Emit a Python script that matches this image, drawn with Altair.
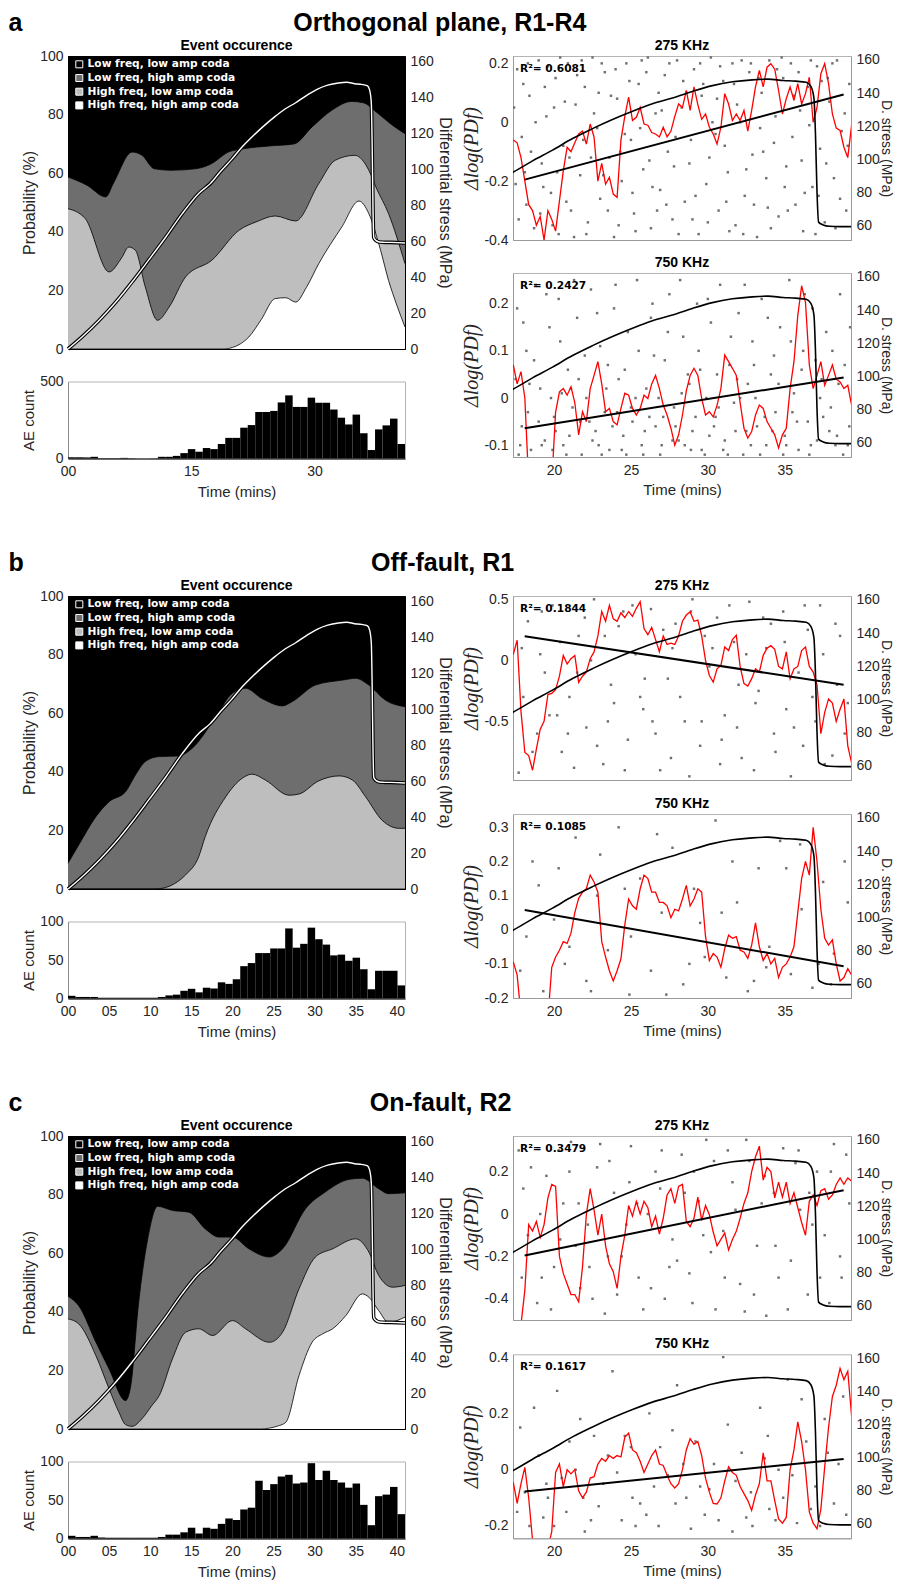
import altair as alt
import pandas as pd

FONT = "Liberation Sans"
SMALL_FONT = "DejaVu Sans"
NB = "\u00a0"

# ---------------- data ----------------
CATS = ["Low freq, low amp coda", "Low freq, high amp coda",
        "High freq, low amp coda", "High freq, high amp coda"]
CAT_COLORS = ["#000000", "#6e6e6e", "#bebebe", "#ffffff"]

# differential stress (MPa) vs time (mins)
stress_t = [0, 1.7, 3.8, 5.8, 7.8, 9.8, 11.9, 13.9, 15.9, 17.3, 18.6, 19.9, 21.2, 22.5, 23.8,
            25.1, 26.4, 27.7, 29.0, 30.3, 31.6, 32.9, 33.9, 34.9, 35.7, 36.4, 36.7, 36.9, 37.0,
            37.1, 37.2, 37.5, 37.9, 38.6, 39.3, 41.0]
stress_v = [0, 6.7, 16, 26, 37.3, 49.4, 62.3, 75.3, 86.5, 92, 99, 105.5, 112.5, 118.5, 124,
            129, 133.5, 137, 141, 144.5, 146.8, 148, 148.4, 147.6, 147.2, 146.5, 144, 137, 115,
            80, 62, 60.3, 59.5, 59.3, 59.3, 59]

# event occurrence band tops (probability %), section a
a_lfha_t = [0, 2.3, 4.6, 5.5, 7.8, 9.0, 10.5, 12.5, 15.5, 17.5, 19.5, 21.5, 24.5, 27.5, 29.7, 32.1, 34.5, 36, 37.5, 39.5, 41]
a_lfha_v = [58.7, 55.9, 51.9, 56.4, 67.2, 66.1, 61.5, 61, 61.5, 63.3, 67.2, 68.4, 69.3, 70, 75.8, 81.5, 84.5, 84, 80.9, 76.3, 73.5]
a_hfla_t = [0, 2.1, 5, 6.5, 7.4, 8.2, 9.4, 10.9, 12.3, 14.3, 17.5, 20.8, 23, 25.2, 27.7, 30.5, 32.5, 34.9, 36.6, 37.5, 39, 41]
a_hfla_v = [47.9, 44.5, 26.3, 31, 34.8, 33.7, 21.2, 9.8, 14.3, 24.6, 30.3, 40.5, 43.5, 45.4, 43.7, 56.4, 64.4, 66.1, 61, 55, 46.2, 29.1]
a_hfha_t = [0, 19, 20, 21, 22, 23.5, 25.2, 26.5, 27.7, 29, 30.5, 33.3, 35.4, 36.6, 38, 39, 40, 41]
a_hfha_v = [0, 0, 0.5, 1.8, 4.1, 10, 17.2, 17.5, 16, 21, 29.1, 41.6, 50.5, 46.2, 34, 23.4, 15, 7.5]

# section b
b_lfha_t = [0, 1.3, 3.4, 5, 7, 8.2, 9.4, 11.1, 13.5, 15.1, 17.6, 20, 21.6, 23.6, 26.1, 27.3, 30.1, 33.4, 35, 36.6, 38.6, 41]
b_lfha_v = [8.8, 15, 24.7, 29.8, 33.2, 38.9, 43.5, 45.2, 45.4, 48, 57.1, 66.8, 68.5, 65, 62.5, 64, 69.6, 71.3, 71.9, 69.6, 64.5, 62.2]
b_hfla_t = [0, 10.6, 12, 13, 14.3, 15.9, 16.7, 19.2, 21.2, 22.4, 24, 26.9, 28.1, 30.5, 33, 34.6, 36.2, 38.2, 40.3, 41]
b_hfla_v = [0, 0, 0.6, 1.9, 4.8, 11, 17.9, 31.5, 37.8, 39.2, 37.2, 32, 32.4, 36.9, 38.6, 37.2, 31.5, 23.5, 20.7, 20.7]
b_hfha_t = [0, 41]
b_hfha_v = [0, 0]

# section c
c_lfha_t = [0, 1.3, 3.4, 5, 7, 7.6, 8.6, 9.7, 10.9, 12.7, 14.7, 16.7, 18.4, 20, 22, 24.5, 26.1, 28.9, 31.3, 34.2, 35.8, 37.8, 39, 41]
c_lfha_v = [45.3, 42.1, 29.6, 20.5, 9.7, 14.2, 43.3, 64.9, 76, 74.6, 74, 68.3, 65.5, 65.5, 61.5, 58.7, 61.5, 75.2, 80.9, 85.2, 85.6, 82, 80.3, 80.6]
c_hfla_t = [0, 1.3, 3.4, 5, 6.2, 7, 7.8, 9.0, 10.2, 11.1, 12.7, 14.3, 15.9, 17.6, 20, 21.6, 24.5, 26.1, 28.1, 30.1, 32.2, 35, 36.6, 37.8, 39.5, 41]
c_hfla_v = [37.6, 35.9, 25, 13.7, 5.7, 1.5, 0.9, 3.5, 8, 11.4, 23.9, 33, 34.2, 31.9, 37, 34.2, 29.6, 33, 47.8, 58.7, 61.5, 64.9, 60.4, 52.4, 48.4, 49]
c_hfha_t = [0, 23.5, 24.5, 25.5, 26.5, 28.1, 29.7, 31, 32.2, 33.8, 35.8, 36.6, 37.8, 39, 41]
c_hfha_v = [0, 0, 0.3, 1, 2.3, 18.2, 29.6, 32.5, 34.2, 38.7, 46.1, 45, 40.4, 36.4, 38.2]

# AE counts, 45 equal bins over 0-41 min
ae_a = [8, 8, 7, 11, 2, 2, 2, 4, 2, 0, 0, 1, 11, 11, 17, 35, 61, 44, 68, 61, 94, 134, 134, 200, 217,
        302, 302, 309, 364, 410, 335, 335, 395, 362, 362, 318, 265, 221, 285, 164, 55, 189, 215, 259, 94]
ae_b = [3.5, 2, 2, 2, 1, 1, 1, 1, 1, 1, 1, 1, 2, 4, 5, 10, 12.6, 8, 14, 13, 21, 19, 25, 42, 46,
        59, 59, 65, 65, 91, 66, 71, 92, 77, 70, 56, 57, 49, 53, 38, 12, 36, 36, 36, 17]
ae_c = [3.5, 2, 2, 3.5, 1.3, 1, 1, 1, 1, 1, 1, 1, 2, 5, 5, 8, 14, 6.5, 14, 12.6, 19, 26, 24, 37.7, 40,
        75, 63, 70.6, 80.5, 82.7, 71.4, 72.7, 97.8, 76, 88, 76, 72.7, 66, 71.4, 43.7, 17.3, 55, 57, 67, 31.6]

# running delta log(PD_f) (red lines), common time grid
red_t = [17.35, 17.6, 17.85, 18.1, 18.35, 18.6, 18.85, 19.1, 19.35, 19.6, 19.85, 20.1, 20.35, 20.6,
         20.85, 21.1, 21.35, 21.6, 21.85, 22.1, 22.35, 22.6, 22.85, 23.1, 23.35, 23.6, 23.85, 24.1,
         24.35, 24.6, 24.85, 25.1, 25.35, 25.6, 25.85, 26.1, 26.35, 26.6, 26.85, 27.1, 27.35, 27.6,
         27.85, 28.1, 28.35, 28.6, 28.85, 29.1, 29.35, 29.6, 29.85, 30.1, 30.35, 30.6, 30.85, 31.1,
         31.35, 31.6, 31.85, 32.1, 32.35, 32.6, 32.85, 33.1, 33.35, 33.6, 33.85, 34.1, 34.35, 34.6,
         34.85, 35.1, 35.35, 35.6, 35.85, 36.1, 36.35, 36.6, 36.85, 37.1, 37.35, 37.6, 37.85, 38.1,
         38.35, 38.6, 38.85, 39.1, 39.35]
red_a275 = [-0.06, -0.07, -0.12, -0.2, -0.28, -0.3, -0.35, -0.32, -0.4, -0.3, -0.33, -0.37, -0.267, -0.165,
            -0.085, -0.1, -0.07, -0.04, -0.03, -0.074, -0.006, -0.05, -0.2, -0.14, -0.21, -0.187, -0.244, -0.255,
            -0.06, 0.02, 0.085, 0.006, 0.017, 0.05, -0.006, -0.01, -0.035, -0.04, -0.05, -0.017, -0.05, -0.03,
            0.02, 0.062, 0.05, 0.108, 0.04, 0.12, 0.06, 0.01, 0.028, -0.017, -0.04, -0.074, -0.017, 0.097,
            0.062, 0.006, 0.028, 0.006, 0.04, -0.03, 0.04, 0.12, 0.176, 0.12, 0.187, 0.199, 0.18, 0.108,
            0.028, 0.08, 0.12, 0.074, 0.131, 0.062, 0.097, 0.153, 0.0, 0.05, 0.165, 0.199, 0.131, 0.028,
            -0.02, -0.028, -0.085, -0.12, -0.01]
red_a750 = [0.07, 0.03, 0.056, 0.0, -0.18, -0.2, -0.21, -0.22, -0.22, -0.2, -0.18, -0.03, 0.013, 0.02,
            0.006, 0.024, -0.01, -0.078, -0.029, -0.05, 0.02, 0.048, 0.077, 0.03, -0.029, -0.022, -0.05, -0.057,
            -0.022, 0.01, 0.006, -0.022, -0.036, -0.022, 0.006, -0.001, 0.03, 0.048, 0.02, -0.015, -0.036, -0.064,
            -0.1, -0.078, -0.036, 0.015, 0.048, 0.063, 0.048, -0.001, -0.036, -0.029, -0.04, -0.015, 0.02, 0.091,
            0.077, 0.063, 0.048, -0.01, -0.064, -0.085, -0.071, -0.036, -0.015, -0.022, -0.05, -0.064, -0.078, -0.106,
            -0.078, -0.064, 0.02, 0.077, 0.175, 0.238, 0.203, 0.07, 0.02, 0.048, 0.077, 0.027, 0.048, 0.07,
            0.04, 0.034, 0.02, 0.027, -0.015]
red_b275 = [0.05, 0.165, -0.42, -0.755, -0.78, -0.9, -0.728, -0.563, -0.5, -0.28, -0.27, -0.24, -0.13, 0.04,
            -0.03, 0.014, 0.04, -0.18, -0.13, -0.096, 0.014, 0.069, 0.2, 0.4, 0.32, 0.45, 0.34, 0.32,
            0.39, 0.35, 0.4, 0.36, 0.426, 0.48, 0.26, 0.21, 0.27, 0.17, 0.07, 0.2, 0.13, 0.14,
            0.13, 0.2, 0.32, 0.371, 0.398, 0.32, 0.33, 0.2, 0.0, -0.124, -0.178, -0.069, -0.041, 0.11,
            0.08, 0.17, 0.206, -0.05, -0.19, -0.21, -0.15, -0.069, -0.096, 0.041, 0.1, 0.12, 0.09, -0.05,
            -0.07, 0.069, -0.151, -0.07, -0.05, 0.08, 0.11, -0.05, -0.096, -0.2, -0.6, -0.426, -0.316, -0.35,
            -0.5, -0.4, -0.316, -0.7, -0.84]
red_b750 = [-0.094, -0.133, -0.25, -0.26, -0.28, -0.3, -0.29, -0.3, -0.28, -0.26, -0.11, -0.08, -0.06, -0.035,
            -0.04, -0.01, 0.05, 0.092, 0.11, 0.12, 0.16, 0.14, 0.11, -0.035, -0.08, -0.12, -0.15, -0.12,
            -0.085, 0.014, 0.09, 0.07, 0.06, 0.12, 0.16, 0.15, 0.11, 0.11, 0.08, 0.08, 0.07, 0.035,
            0.06, 0.055, 0.09, 0.13, 0.07, 0.09, 0.12, 0.11, -0.02, -0.09, -0.07, -0.08, -0.11, -0.055,
            -0.016, -0.025, -0.02, -0.06, -0.065, -0.084, -0.045, 0.02, -0.05, -0.09, -0.07, -0.1, -0.084, -0.14,
            -0.11, -0.1, -0.08, -0.05, 0.05, 0.15, 0.2, 0.16, 0.3, 0.2, 0.06, -0.025, -0.045, -0.03,
            -0.1, -0.15, -0.14, -0.114, -0.133]
red_c275 = [-0.6, -0.6, -0.52, -0.36, -0.05, -0.08, -0.035, -0.11, -0.05, 0.076, 0.139, 0.13, -0.2, -0.28,
            -0.33, -0.38, -0.38, -0.414, -0.25, -0.003, 0.12, 0.02, -0.1, 0.0, -0.15, -0.235, -0.272, -0.351,
            -0.2, -0.1, 0.04, -0.01, 0.06, 0.0, 0.06, 0.03, -0.06, -0.01, -0.095, -0.02, 0.09, 0.12,
            0.05, 0.13, 0.14, -0.035, -0.06, -0.02, 0.08, -0.03, 0.04, -0.003, -0.085, -0.15, -0.12, -0.09,
            -0.17, -0.12, -0.082, -0.02, 0.05, 0.1, 0.2, 0.27, 0.32, 0.16, 0.22, 0.2, 0.076, 0.15,
            0.08, 0.15, 0.05, 0.1, 0.03, -0.04, -0.1, 0.06, 0.09, 0.04, 0.11, 0.12, 0.07, 0.09,
            0.139, 0.17, 0.14, 0.17, 0.155]
red_c750 = [-0.045, -0.12, -0.05, 0.008, -0.1, -0.25, -0.3, -0.32, -0.3, -0.28, -0.22, -0.01, 0.02, -0.06,
            0.0, -0.015, 0.0, -0.075, -0.1, -0.08, -0.03, -0.025, 0.02, 0.04, 0.03, 0.05, 0.04, 0.05,
            0.045, 0.115, 0.13, 0.07, 0.06, 0.03, -0.01, 0.02, 0.05, 0.07, 0.02, 0.015, -0.02, -0.05,
            -0.065, -0.05, 0.0, 0.07, 0.11, 0.09, 0.1, 0.05, -0.03, -0.08, -0.12, -0.122, -0.1, -0.04,
            0.01, -0.01, -0.02, -0.06, -0.085, -0.11, -0.145, -0.09, -0.05, 0.06, -0.04, -0.04, -0.11, -0.175,
            -0.19, -0.17, 0.0, 0.07, 0.17, 0.1, 0.0, -0.15, -0.19, -0.21, -0.14, 0.01, 0.15, 0.26,
            0.3, 0.36, 0.32, 0.35, 0.19]

# regression lines (end points)
reg_t = [18.09, 38.83]
reg_a275 = [-0.195, 0.094]
reg_a750 = [-0.064, 0.0437]
reg_b275 = [0.198, -0.2]
reg_b750 = [0.058, -0.107]
reg_c275 = [-0.196, 0.112]
reg_c750 = [-0.078, 0.038]

r2_values = ["0.6081", "0.2427", "0.1844", "0.1085", "0.3479", "0.1617"]

# individual events (gray dots): (time, delta log PD_f)
dots_a275 = [(17.6,0.18),(17.9,-0.05),(18.2,-0.28),(18.4,0.09),(18.7,-0.36),(19.0,0.21),(19.2,-0.14),(19.5,0.02),
    (19.8,-0.24),(20.1,0.15),(20.3,-0.38),(20.6,-0.08),(20.9,0.2),(21.1,-0.3),(21.4,0.06),(21.7,-0.18),(22.0,0.12),
    (22.2,-0.34),(22.5,0.22),(22.8,-0.02),(23.0,-0.26),(23.3,0.17),(23.6,-0.12),(23.9,-0.39),(24.1,0.08),(24.4,-0.2),
    (24.7,0.2),(25.0,-0.06),(25.2,-0.31),(25.5,0.13),(25.8,-0.16),(26.1,0.22),(26.3,-0.36),(26.6,0.03),(26.9,-0.23),
    (27.2,0.16),(27.4,-0.1),(27.7,-0.33),(28.0,0.21),(28.3,0.05),(28.5,-0.27),(28.8,-0.14),(29.1,0.18),(29.4,-0.38),
    (29.6,0.09),(29.9,-0.21),(30.2,0.22),(30.5,-0.04),(30.7,-0.3),(31.0,0.14),(31.3,-0.17),(31.6,0.2),(31.8,-0.35),
    (32.1,0.0),(32.4,-0.25),(32.7,0.17),(32.9,-0.11),(33.2,-0.39),(33.5,0.1),(33.8,-0.19),(34.0,0.21),(34.3,-0.07),
    (34.6,-0.32),(34.9,0.15),(35.1,-0.15),(35.4,0.2),(35.7,-0.28),(36.0,0.04),(36.2,-0.37),(36.5,0.12),(36.8,-0.22),
    (37.1,0.19),(37.3,-0.09),(37.6,-0.34),(37.9,0.07),(38.2,-0.19),(38.4,0.21),(38.7,-0.03),(39.0,-0.3),(39.2,0.13),
    (17.5,-0.21),(18.0,0.13),(18.5,-0.1),(19.1,-0.31),(19.6,0.19),(20.2,-0.17),(20.7,0.07),(21.3,-0.39),(21.8,0.21),
    (22.4,-0.12),(22.9,0.1),(23.5,-0.3),(24.0,0.18),(24.6,-0.04),(25.1,-0.24),(25.7,0.21),(26.2,-0.13),(26.8,0.1),
    (27.3,-0.28),(27.9,-0.05),(28.4,0.14),(29.0,-0.33),(29.5,0.2),(30.1,-0.12),(30.6,0.08),(31.2,-0.27),(31.7,0.13),
    (32.3,-0.38),(32.8,0.2),(33.4,-0.02),(33.9,-0.29),(34.5,0.18),(35.0,-0.22),(35.6,0.09),(36.1,-0.13),(36.7,0.21),
    (37.2,-0.25),(37.8,0.15),(38.3,-0.36),(38.9,0.03),
    (17.4,0.05),(17.7,-0.33),(18.1,-0.17),(18.3,0.2),(18.8,0.0),(19.3,-0.22),(19.4,0.12),(19.9,-0.35),(20.0,0.05),
    (20.4,0.22),(20.8,-0.27),(21.0,-0.12),(21.5,0.16),(21.9,-0.06),(22.1,-0.38),(22.6,0.03),(23.1,0.2),(23.2,-0.18),
    (23.7,0.09),(24.2,-0.35),(24.3,-0.1),(24.9,0.14),(25.3,-0.37),(25.6,-0.02),(26.0,0.17),(26.4,-0.22),(26.7,-0.3),
    (27.0,0.04),(27.5,0.2),(27.8,-0.15),(28.1,-0.38),(28.6,0.1),(28.9,-0.06),(29.2,-0.25),(29.7,0.13),(30.0,-0.34),
    (30.3,0.0),(30.8,0.19),(31.1,-0.08),(31.4,-0.37),(31.9,0.06),(32.2,0.21),(32.5,-0.16),(33.0,-0.28),(33.3,0.15),
    (33.6,-0.1),(34.1,-0.36),(34.4,0.02),(34.8,0.22),(35.2,-0.3),(35.5,-0.05),(35.9,0.17),(36.3,-0.24),(36.6,-0.01),
    (37.0,-0.38),(37.4,0.14),(37.7,-0.14),(38.1,0.2),(38.6,-0.26),(39.1,-0.08)]
dots_a750 = [(17.6,0.19),(17.9,-0.06),(18.2,0.1),(18.5,-0.11),(18.8,0.24),(19.1,0.02),(19.4,-0.09),(19.7,0.15),
    (20.0,-0.04),(20.3,0.21),(20.6,-0.1),(20.9,0.06),(21.2,-0.02),(21.5,0.17),(21.8,-0.12),(22.1,0.0),(22.4,0.23),
    (22.7,-0.07),(23.0,0.11),(23.3,-0.03),(23.6,-0.11),(23.9,0.19),(24.2,0.04),(24.5,-0.08),(24.8,0.14),(25.1,-0.05),
    (25.4,0.25),(25.7,-0.1),(26.0,0.02),(26.3,0.17),(26.6,-0.06),(26.9,-0.12),(27.2,0.08),(27.5,0.22),(27.8,-0.02),
    (28.1,-0.09),(28.4,0.13),(28.7,0.05),(29.0,-0.07),(29.3,0.2),(29.6,-0.11),(29.9,0.0),(30.2,0.16),(30.5,-0.04),
    (30.8,0.24),(31.1,-0.09),(31.4,0.07),(31.7,-0.01),(32.0,0.18),(32.3,-0.12),(32.6,0.03),(32.9,0.12),(33.2,-0.06),
    (33.5,0.21),(33.8,-0.1),(34.1,0.05),(34.4,-0.03),(34.7,0.15),(35.0,-0.08),(35.3,0.25),(35.6,0.01),(35.9,-0.11),
    (36.2,0.1),(36.5,-0.05),(36.8,0.19),(37.1,-0.09),(37.4,0.04),(37.7,0.14),(38.0,-0.02),(38.3,-0.1),(38.6,0.22),
    (38.9,0.07),(39.2,-0.06),(17.8,-0.1),(18.4,0.03),(19.0,-0.05),(19.9,-0.11),(20.5,0.01),(21.0,-0.08),(21.6,0.04),
    (22.3,-0.05),(22.9,-0.1),(23.5,0.07),(24.1,-0.03),(24.7,-0.12),(25.3,0.0),(25.9,-0.07),(26.5,0.09),(27.1,-0.04),
    (27.7,-0.09),(28.3,0.01),(28.9,-0.11),(29.5,0.06),(30.1,-0.08),(30.7,-0.02),(31.3,-0.12),(31.9,0.04),(32.5,-0.07),
    (33.1,0.0),(33.7,-0.04),(34.3,0.09),(34.9,-0.12),(35.5,-0.03),(36.1,0.06),(36.7,-0.1),(37.3,0.0),(37.9,-0.07),
    (38.5,0.03),(39.1,-0.1),
    (17.5,0.04),(17.7,-0.12),(18.0,0.16),(18.3,-0.03),(18.7,0.08),(19.2,-0.1),(19.5,0.22),(19.8,0.0),(20.1,-0.07),
    (20.4,0.12),(20.8,-0.12),(21.1,0.02),(21.3,0.25),(21.7,-0.05),(22.0,0.09),(22.5,-0.09),(22.8,0.18),(23.1,-0.12),
    (23.4,0.02),(23.8,-0.06),(24.0,0.24),(24.4,-0.11),(24.6,0.06),(25.0,-0.02),(25.5,0.1),(25.8,-0.12),(26.2,-0.04),
    (26.4,0.2),(26.8,0.0),(27.0,-0.1),(27.4,0.14),(27.9,-0.06),(28.2,0.25),(28.5,-0.1),(28.8,0.03),(29.2,-0.04),
    (29.4,0.1),(29.8,-0.12),(30.0,0.21),(30.4,-0.06),(30.6,0.05),(31.0,-0.11),(31.5,0.13),(31.8,-0.07),(32.1,0.0),
    (32.4,0.24),(32.8,-0.1),(33.0,0.07),(33.4,-0.12),(33.9,0.17),(34.2,-0.07),(34.6,0.03),(35.1,-0.1),(35.4,0.12),
    (35.8,-0.05),(36.3,0.22),(36.6,-0.12),(37.0,0.08),(37.5,-0.04),(38.1,0.1),(38.4,-0.08),(38.8,-0.12),(39.25,0.15)]
dots_b275 = [(17.7,-0.92),(18.3,0.32),(18.9,-0.6),(19.4,-0.1),(19.9,0.45),(20.5,-0.75),(21.0,-0.3),(21.6,0.2),
    (22.1,-0.55),(22.6,0.5),(23.2,-0.85),(23.7,-0.2),(24.2,0.28),(24.8,-0.65),(25.3,0.05),(25.8,-0.4),(26.3,0.42),
    (26.9,-0.9),(27.4,-0.15),(27.9,0.3),(28.5,-0.5),(29.0,0.5),(29.5,-0.7),(30.1,-0.05),(30.6,0.35),(31.1,-0.45),
    (31.7,0.15),(32.2,-0.8),(32.7,0.48),(33.3,-0.25),(33.8,0.1),(34.3,-0.6),(34.9,0.4),(35.4,-0.95),(35.9,-0.1),
    (36.5,0.25),(37.0,-0.5),(37.5,0.05),(38.1,-0.78),(38.6,0.2),(39.1,-0.35),(18.0,-0.3),(19.1,0.05),(20.2,-0.45),
    (21.3,-0.88),(22.4,0.0),(23.5,-0.5),(24.5,0.4),(25.6,-0.3),(26.6,-0.6),(27.7,0.1),(28.8,-0.95),(29.8,0.2),
    (30.9,-0.65),(32.0,-0.2),(33.0,-0.9),(34.1,0.3),(35.1,-0.4),(36.2,-0.7),(37.3,0.45),(38.4,-0.2),
    (17.9,0.1),(18.6,-0.75),(19.2,0.4),(19.7,-0.45),(20.4,0.15),(20.9,-0.6),(21.5,-0.1),(22.0,0.35),(22.8,-0.7),
    (23.3,0.2),(23.9,-0.35),(24.6,-0.9),(25.1,0.45),(25.9,-0.15),(26.4,-0.5),(27.1,0.25),(27.6,-0.8),(28.2,-0.3),
    (28.9,0.4),(29.6,-0.5),(30.3,0.1),(30.8,-0.85),(31.4,0.45),(31.9,-0.55),(32.5,0.05),(33.1,-0.35),(33.6,0.35),
    (34.4,-0.75),(35.0,0.15),(35.6,-0.55),(36.3,0.45),(36.8,-0.3),(37.6,-0.85),(38.3,0.3),(38.9,-0.6)]
dots_b750 = [(17.8,-0.12),(18.6,0.2),(19.3,-0.18),(20.0,0.03),(20.7,-0.1),(21.4,0.27),(22.1,-0.15),(22.8,0.1),
    (23.5,-0.06),(24.2,0.3),(24.9,-0.19),(25.6,0.15),(26.3,-0.12),(27.0,0.05),(27.7,0.24),(28.4,-0.16),(29.1,0.12),
    (29.8,-0.08),(30.5,0.32),(31.2,-0.14),(31.9,0.08),(32.6,-0.18),(33.3,0.18),(34.0,-0.05),(34.7,0.26),(35.4,-0.13),
    (36.1,0.06),(36.8,-0.17),(37.5,0.14),(38.2,-0.07),(38.9,0.2),(19.0,0.13),(21.0,-0.05),(23.0,0.22),(25.0,-0.02),
    (27.3,-0.19),(29.5,0.02),(31.6,0.2),(33.8,-0.11),(36.0,0.25),(38.0,-0.16),
    (18.2,-0.02),(20.3,0.18),(22.4,-0.18),(24.6,0.12),(26.7,0.28),(28.8,-0.1),(30.9,0.05),(33.0,-0.15),(35.1,0.18),
    (37.2,-0.1),(39.1,0.08)]
dots_c275 = [(17.7,0.3),(18.3,-0.1),(18.9,-0.42),(19.5,0.18),(20.0,-0.25),(20.6,0.05),(21.1,0.34),(21.7,-0.35),
    (22.2,-0.05),(22.8,0.22),(23.3,-0.47),(23.9,0.1),(24.4,-0.2),(25.0,0.32),(25.5,-0.3),(26.1,0.0),(26.6,0.2),
    (27.2,-0.4),(27.7,-0.12),(28.3,0.28),(28.8,-0.28),(29.4,0.06),(29.9,0.35),(30.5,-0.45),(31.0,-0.08),(31.6,0.15),
    (32.1,-0.33),(32.7,0.25),(33.2,-0.15),(33.8,-0.48),(34.3,0.1),(34.9,0.31),(35.4,-0.22),(36.0,0.02),(36.5,-0.38),
    (37.1,0.2),(37.6,-0.1),(38.2,0.33),(38.7,-0.3),(39.2,0.05),(18.0,0.12),(19.2,-0.3),(20.3,0.3),(21.4,-0.15),
    (22.5,-0.4),(23.6,0.25),(24.7,-0.05),(25.8,-0.45),(26.9,0.12),(28.0,-0.22),(29.1,0.2),(30.2,-0.18),(31.3,0.3),
    (32.4,-0.46),(33.5,0.05),(34.6,-0.3),(35.7,0.24),(36.8,-0.05),(37.9,-0.42),(39.0,0.28),
    (17.9,-0.3),(18.5,0.22),(19.1,0.0),(19.8,-0.45),(20.4,-0.12),(21.0,0.2),(21.6,0.05),(22.3,-0.25),(23.0,0.33),
    (23.5,-0.2),(24.1,-0.38),(24.9,0.15),(25.4,0.05),(26.3,-0.35),(27.0,0.3),(27.5,-0.25),(28.5,0.1),(29.0,-0.42),
    (29.7,-0.1),(30.4,0.25),(31.1,-0.3),(31.8,0.02),(32.5,0.35),(33.0,-0.38),(33.7,0.18),(34.4,-0.15),(35.2,-0.45),
    (35.9,0.3),(36.6,0.1),(37.3,-0.3),(38.0,0.2),(38.6,-0.2)]
dots_c750 = [(17.8,0.15),(18.4,-0.2),(19.0,0.05),(19.6,-0.1),(20.2,0.28),(20.8,-0.15),(21.4,0.0),(22.0,-0.22),
    (22.6,0.12),(23.2,-0.05),(23.8,0.35),(24.4,-0.18),(25.0,0.08),(25.6,-0.12),(26.2,0.2),(26.8,-0.2),(27.4,-0.02),
    (28.0,0.3),(28.6,-0.1),(29.2,0.1),(29.8,-0.16),(30.4,0.02),(31.0,0.4),(31.6,-0.22),(32.2,0.06),(32.8,-0.08),
    (33.4,0.22),(34.0,-0.14),(34.6,0.0),(35.2,0.32),(35.8,-0.19),(36.4,0.1),(37.0,-0.06),(37.6,0.18),(38.2,-0.12),
    (38.8,0.26),(18.1,-0.08),(19.3,-0.17),(20.5,-0.03),(21.7,0.18),(22.9,-0.13),(24.1,-0.01),(25.3,-0.2),(26.5,-0.06),
    (27.7,0.14),(28.9,-0.21),(30.1,-0.07),(31.3,0.16),(32.5,-0.17),(33.7,0.04),(34.9,-0.1),(36.1,0.25),(37.3,-0.2),
    (38.5,0.02),
    (17.6,-0.15),(18.7,0.22),(19.5,-0.05),(20.0,-0.2),(21.0,0.1),(21.9,-0.1),(22.4,-0.18),(23.5,0.05),(24.6,0.12),
    (25.1,-0.1),(26.0,-0.16),(26.9,0.08),(27.9,-0.12),(28.4,0.02),(29.5,-0.06),(30.7,-0.18),(31.8,-0.04),(32.9,-0.2),
    (33.9,0.12),(34.4,-0.18),(35.5,-0.02),(36.7,-0.14),(37.8,0.06),(39.0,-0.16)]

# ---------------- helpers ----------------
stress_df = pd.DataFrame({"t": stress_t, "s": stress_v})
LABEL = dict(labelFontSize=14, ticks=False, grid=False)


def panel_title(text, width):
    return alt.Chart(pd.DataFrame({"label": [text]})).mark_text(
        align="center", baseline="middle", font=FONT, fontSize=14, fontWeight="bold", color="black"
    ).encode(x=alt.value(width / 2), y=alt.value(-10), text="label:N")


def main_panel(b3t, b3v, b2t, b2v, b1t, b1v):
    x = alt.X("t:Q", scale=alt.Scale(domain=[0, 41], nice=False, zero=False),
              axis=alt.Axis(labels=False, ticks=False, title=None, domainColor="black"))
    yax = alt.Axis(values=[0, 20, 40, 60, 80, 100], title="Probability (%)", titleFontSize=16,
                   titlePadding=3, minExtent=28, maxExtent=28, labelPadding=5,
                   domainColor="black", **LABEL)
    y = alt.Y("p:Q", stack=None, scale=alt.Scale(domain=[0, 100], nice=False), axis=yax)
    leg = alt.Legend(title=None, orient="none", legendX=6, legendY=3, symbolType="square",
                     symbolSize=49, symbolStrokeColor="white", symbolStrokeWidth=1,
                     labelColor="white", labelFont=SMALL_FONT, labelFontSize=10.6, labelFontWeight="bold",
                     rowPadding=1.7, labelOffset=3, padding=0)
    color = alt.Color("band:N", scale=alt.Scale(domain=CATS, range=CAT_COLORS), legend=leg)
    frames = [(CATS[0], [0, 41], [100, 100]), (CATS[1], b3t, b3v), (CATS[2], b2t, b2v), (CATS[3], b1t, b1v)]
    areas, lines = [], []
    for i, (name, tt, vv) in enumerate(frames):
        df = pd.DataFrame({"t": tt, "p": vv, "band": name})
        areas.append(alt.Chart(df).mark_area(interpolate="monotone", opacity=1).encode(x=x, y=y, color=color))
        if i > 0:
            lines.append(alt.Chart(df).mark_line(interpolate="monotone", color="black", strokeWidth=0.8)
                         .encode(x=x, y=y))
    sy = alt.Y("s:Q", scale=alt.Scale(domain=[0, 163], nice=False),
               axis=alt.Axis(orient="right", values=list(range(0, 161, 20)),
                             title="Differential stress (MPa)", titleFontSize=16, titlePadding=3,
                             minExtent=28, maxExtent=28, labelPadding=5, domainColor="black", **LABEL))
    s1 = alt.Chart(stress_df).mark_line(color="black", strokeWidth=3.6, interpolate="monotone").encode(x=x, y=sy)
    s2 = alt.Chart(stress_df).mark_line(color="white", strokeWidth=1.4, interpolate="monotone").encode(x=x, y=sy)
    return (alt.layer(alt.layer(*areas, *lines, panel_title("Event occurence", 337)), alt.layer(s1, s2))
            .resolve_scale(y="independent")
            .properties(width=337, height=293, view=alt.ViewBackground(stroke="black")))


def ae_panel(counts, ymax, yvals, xvals):
    w = 41 / 45
    df = pd.DataFrame({"t0": [i * w for i in range(45)], "t1": [(i + 1) * w for i in range(45)],
                       "n": counts})
    return alt.Chart(df).mark_rect(color="black").encode(
        x=alt.X("t0:Q", scale=alt.Scale(domain=[0, 41], nice=False, zero=False),
                axis=alt.Axis(values=xvals, labelExpr="(datum.value < 10 ? '0' : '') + datum.value",
                              title="Time (mins)", titleFontSize=15, titlePadding=6, labelPadding=6,
                              labelFlush=False, labelOverlap=False, domainColor="black", **LABEL)),
        x2="t1:Q",
        y=alt.Y("n:Q", scale=alt.Scale(domain=[0, ymax], nice=False),
                axis=alt.Axis(values=yvals, title="AE count", titleFontSize=15, titlePadding=4,
                              minExtent=28, maxExtent=28, labelPadding=5, domainColor="#8c8c8c", **LABEL)),
        y2=alt.datum(0),
    ).properties(width=337, height=77, view=alt.ViewBackground(stroke="#b4b4b4"))


def right_panel(name, dots, red_v, reg_v, r2, ydom, yticks, bottom):
    if bottom:
        xax = alt.Axis(values=[20, 25, 30, 35], title="Time (mins)", titleFontSize=15, titlePadding=5,
                       labelPadding=6, labelFlush=False, domainColor="#999999", **LABEL)
    else:
        xax = alt.Axis(labels=False, ticks=False, title=None, domainColor="#999999")
    x = alt.X("t:Q", scale=alt.Scale(domain=[17.33, 39.31], nice=False, zero=False), axis=xax)
    yax = alt.Axis(values=yticks, labelExpr="'' + datum.value", title="Δlog(PDf)",
                   titleFont="Liberation Serif", titleFontStyle="italic", titleFontSize=20,
                   titlePadding=2, minExtent=30, maxExtent=30, labelPadding=5,
                   domainColor="#999999", **LABEL)
    y = alt.Y("v:Q", scale=alt.Scale(domain=ydom, nice=False, zero=False), axis=yax)
    ddf = pd.DataFrame(dots, columns=["t", "v"])
    d = alt.Chart(ddf).mark_square(size=6, color="#6f6f6f", opacity=1, clip=True).encode(x=x, y=y)
    r = alt.Chart(pd.DataFrame({"t": red_t, "v": red_v})).mark_line(
        color="#ff0000", strokeWidth=1.3, clip=True).encode(x=x, y=y)
    g = alt.Chart(pd.DataFrame({"t": reg_t, "v": reg_v})).mark_line(
        color="black", strokeWidth=2).encode(x=x, y=y)
    txt = alt.Chart(pd.DataFrame({"label": ["R²= " + r2]})).mark_text(
        align="left", baseline="middle", font=SMALL_FONT, fontSize=10.6, fontWeight="bold", color="black"
    ).encode(x=alt.value(7), y=alt.value(13), text="label:N")
    sy = alt.Y("s:Q", scale=alt.Scale(domain=[51.2, 162.4], nice=False, zero=False),
               axis=alt.Axis(orient="right", values=[60, 80, 100, 120, 140, 160],
                             title="D. stress (MPa)", titleFontSize=14, titlePadding=0,
                             minExtent=27, maxExtent=27, labelPadding=5, domainColor="#999999", **LABEL))
    s = alt.Chart(stress_df).mark_line(color="black", strokeWidth=1.6, clip=True,
                                       interpolate="monotone").encode(x=x, y=sy)
    return (alt.layer(alt.layer(d, r, g, txt, panel_title(name, 338)), s)
            .resolve_scale(y="independent")
            .properties(width=338, height=184, view=alt.ViewBackground(stroke="#b4b4b4")))


def section(letter, nb, name, main, ae, p1, p2, rsp):
    left = (alt.vconcat(main, ae, spacing=16.5)
            .resolve_scale(color="independent").resolve_legend(color="independent"))
    right = alt.vconcat(p1, p2, spacing=rsp)
    return (alt.hconcat(left, right, spacing=7)
            .resolve_scale(color="independent").resolve_legend(color="independent")
            .properties(title=alt.TitleParams(letter + NB * nb + name, fontSize=25, fontWeight="bold",
                                              font=FONT, anchor="start", dx=-12, offset=3,
                                              color="black")))


secA = section("a", 39, "Orthogonal plane, R1-R4",
               main_panel(a_lfha_t, a_lfha_v, a_hfla_t, a_hfla_v, a_hfha_t, a_hfha_v),
               ae_panel(ae_a, 500, [0, 500], [0, 15, 30]),
               right_panel("275 KHz", dots_a275, red_a275, reg_a275, r2_values[0], [-0.4, 0.225], [-0.4, -0.2, 0, 0.2], False),
               right_panel("750 KHz", dots_a750, red_a750, reg_a750, r2_values[1], [-0.125, 0.265], [-0.1, 0, 0.1, 0.2], True),
               7)
secB = section("b", 50, "Off-fault, R1",
               main_panel(b_lfha_t, b_lfha_v, b_hfla_t, b_hfla_v, b_hfha_t, b_hfha_v),
               ae_panel(ae_b, 100, [0, 50, 100], [0, 5, 10, 15, 20, 25, 30, 35, 40]),
               right_panel("275 KHz", dots_b275, red_b275, reg_b275, r2_values[2], [-0.98, 0.527], [-0.5, 0, 0.5], False),
               right_panel("750 KHz", dots_b750, red_b750, reg_b750, r2_values[3], [-0.2, 0.339], [-0.2, -0.1, 0, 0.1, 0.2, 0.3], True),
               15)
secC = section("c", 50, "On-fault, R2",
               main_panel(c_lfha_t, c_lfha_v, c_hfla_t, c_hfla_v, c_hfha_t, c_hfha_v),
               ae_panel(ae_c, 100, [0, 50, 100], [0, 5, 10, 15, 20, 25, 30, 35, 40]),
               right_panel("275 KHz", dots_c275, red_c275, reg_c275, r2_values[4], [-0.5, 0.368], [-0.4, -0.2, 0, 0.2], False),
               right_panel("750 KHz", dots_c750, red_c750, reg_c750, r2_values[5], [-0.244, 0.41], [-0.2, 0, 0.2, 0.4], True),
               15.3)

chart = (alt.vconcat(secA, secB, secC, spacing=50)
         .resolve_scale(color="independent").resolve_legend(color="independent")
         .properties(padding={"top": 2, "left": 0, "right": 0, "bottom": 0}, background="white")
         .configure_axis(labelFont=FONT, titleFont=FONT, labelColor="#262626", titleColor="#262626",
                         titleFontWeight="normal", grid=False)
         .configure_title(font=FONT)
         .configure_view(stroke="#b4b4b4"))

chart.save("out.html", embed_options={"renderer": "svg", "actions": False})
